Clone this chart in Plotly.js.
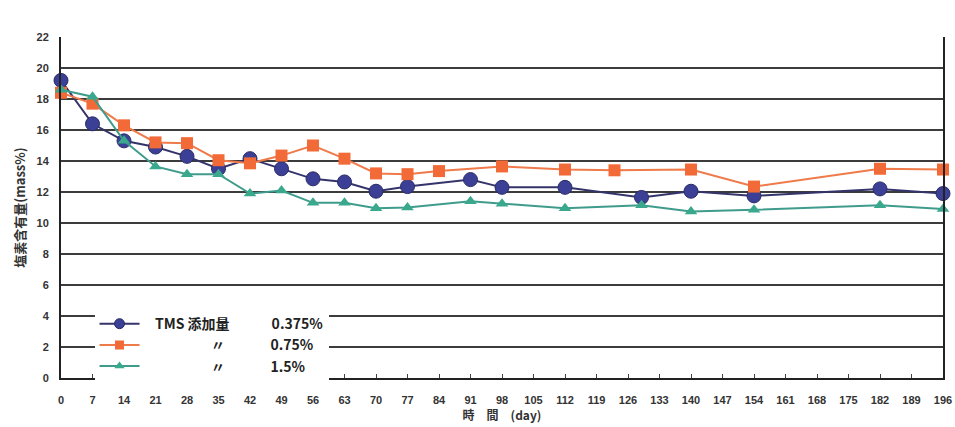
<!DOCTYPE html>
<html>
<head>
<meta charset="utf-8">
<script src="https://cdn.plot.ly/plotly-3.0.1.min.js"></script>
<style>
html,body{margin:0;padding:0;background:#fff;}
#chart{width:955px;height:427px;}
</style>
</head>
<body>
<div id="chart"></div>
<script>
// x tick labels (days)
const tickDays = [0,7,14,21,28,35,42,49,56,63,70,77,84,91,98,105,112,119,126,133,140,147,154,161,168,175,182,189,196];

// TMS 0.375%
const daysA = [0,7,14,21,28,35,42,49,56,63,70,77,91,98,112,129,140,154,182,196];
const valsA = [19.2,16.4,15.3,14.9,14.3,13.5,14.15,13.5,12.85,12.65,12.05,12.35,12.8,12.3,12.3,11.65,12.05,11.75,12.2,11.9];

// TMS 0.75%
const daysB = [0,7,14,21,28,35,42,49,56,63,70,77,84,98,112,123,140,154,182,196];
const valsB = [18.4,17.7,16.3,15.2,15.15,14.05,13.85,14.35,15.0,14.15,13.2,13.15,13.35,13.65,13.45,13.4,13.45,12.35,13.5,13.45];

// TMS 1.5%
const daysC = [0,7,14,21,28,35,42,49,56,63,70,77,91,98,112,129,140,154,182,196];
const valsC = [18.6,18.15,15.3,13.65,13.15,13.15,11.9,12.1,11.3,11.3,10.95,11.0,11.4,11.25,10.95,11.15,10.75,10.85,11.15,10.9];

const E = '\u2003', P = '\u2002\u2005', Q = '\u2005';
const seriesNames = [
  P + 'TMS 添加量' + E + E + E + '0.375%',
  P + E + E + E + E + '〃' + E + E + E + Q + '0.75%',
  P + E + E + E + E + '〃' + E + E + E + Q + '1.5%'
];
const yTicks = [0,2,4,6,8,10,12,14,16,18,20,22];

const styles = [
  {line: {color: '#34346a', width: 2}, sym: 'circle', size: 14, leg: 10, mc: '#3b3f96', ml: {color: '#2a2c66', width: 1}},
  {line: {color: '#ef7a4a', width: 2}, sym: 'square', size: 12, leg: 9, mc: '#f26a38', ml: {width: 0}},
  {line: {color: '#3f9c8c', width: 2}, sym: 'triangle-up', size: 11, leg: 9, mc: '#3aa88c', ml: {width: 0}}
];
const xs = [daysA, daysB, daysC];
const ys = [valsA, valsB, valsC];

const traces = [];
for (let i = 0; i < 3; i++) {
  const s = styles[i];
  traces.push({x: xs[i], y: ys[i], name: seriesNames[i], mode: 'lines+markers', cliponaxis: false,
    showlegend: false, line: s.line,
    marker: {symbol: s.sym, size: s.size, color: s.mc, line: s.ml}});
}
// legend entries (smaller symbols, as in the original legend)
for (let i = 0; i < 3; i++) {
  const s = styles[i];
  traces.push({x: [null], y: [null], name: seriesNames[i], mode: 'lines+markers', showlegend: true,
    line: s.line, marker: {symbol: s.sym, size: s.leg, color: s.mc, line: s.ml}});
}

const layout = {
  width: 955, height: 427,
  margin: {l: 61, r: 12, t: 37, b: 49},
  paper_bgcolor: '#ffffff', plot_bgcolor: '#ffffff',
  font: {family: '"Liberation Sans", Arial, sans-serif', color: '#333'},
  showlegend: true,
  legend: {x: 0.038, y: 0.205, xanchor: 'left', yanchor: 'top',
    bgcolor: '#ffffff', borderwidth: 0, tracegroupgap: 0,
    itemwidth: 40,
    font: {family: '"Noto Sans CJK JP", "Liberation Sans", sans-serif', size: 14, color: '#222', weight: 'bold'}},
  xaxis: {
    range: [0, 196], tickvals: tickDays, ticktext: tickDays.map(String),
    showgrid: false, zeroline: false, showline: true, linecolor: '#222', linewidth: 2,
    mirror: false, ticks: 'inside', ticklen: 4, tickcolor: '#444',
    tickfont: {size: 11, color: '#333', weight: 'bold', family: '"Liberation Sans Narrow", "Liberation Sans", sans-serif'},
    ticklabelstandoff: 11,
    title: {text: '時\u3000間\u3000(day)', standoff: 6,
      font: {size: 12, color: '#333', weight: 'bold', family: '"Noto Sans CJK JP", sans-serif'}}
  },
  yaxis: {
    range: [0, 22], tickvals: yTicks, ticktext: yTicks.map(String),
    showgrid: true, gridcolor: '#3c3c3c', gridwidth: 1.6,
    zeroline: false, showline: true, linecolor: '#222', linewidth: 2, mirror: true,
    ticks: '', ticklabelstandoff: 8,
    tickfont: {size: 11, color: '#333', weight: 'bold', family: '"Liberation Sans", sans-serif'},
    title: {text: '塩素含有量(mass%)', standoff: 8,
      font: {size: 13, color: '#333', weight: 'bold', family: '"Noto Sans CJK JP", sans-serif'}}
  }
};

Plotly.newPlot('chart', traces, layout, {displayModeBar: false, staticPlot: true});
</script>
</body>
</html>
